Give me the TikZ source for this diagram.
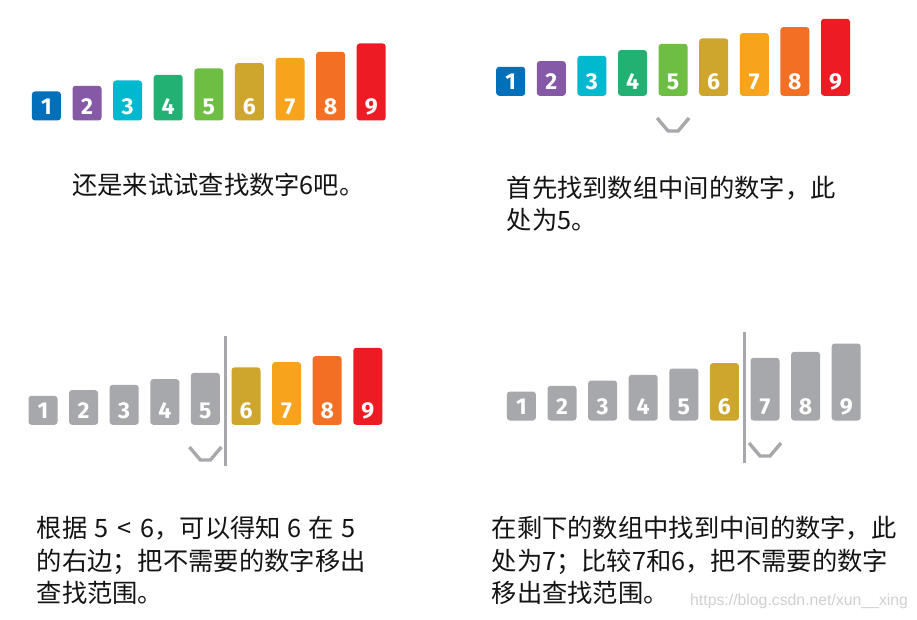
\documentclass[tikz,border=0pt]{standalone}
\usepackage{fontspec}
\newfontfamily\cjk{Noto Sans CJK SC}
\newfontfamily\digitfont{Fira Sans}
\newfontfamily\wmfont{Liberation Sans}
\definecolor{c1}{RGB}{0,112,186}
\definecolor{c2}{RGB}{133,89,165}
\definecolor{c3}{RGB}{0,185,206}
\definecolor{c4}{RGB}{34,177,114}
\definecolor{c5}{RGB}{111,190,68}
\definecolor{c6}{RGB}{206,166,46}
\definecolor{c7}{RGB}{247,164,28}
\definecolor{c8}{RGB}{242,111,35}
\definecolor{c9}{RGB}{237,28,36}
\definecolor{gr}{RGB}{167,168,172}
\definecolor{txtc}{RGB}{20,20,20}
\definecolor{wmc}{RGB}{208,208,208}
\tikzset{
  barbox/.style={rounded corners=3pt, inner sep=0pt, minimum width=29pt, draw=none, anchor=south west},
  digit/.style={font=\digitfont\bfseries\fontsize{23}{23}\selectfont, text=white, inner sep=0pt, anchor=base},
  chevron/.style={draw=gr, line width=3.4pt, line join=miter},
  divider/.style={draw=gr, line width=3pt},
  txt/.style={font=\cjk\fontsize{25.3}{25.3}\selectfont, text=txtc, inner sep=0pt, anchor=base west},
  wm/.style={font=\wmfont\fontsize{15.8}{16}\selectfont, text=wmc, inner sep=0pt, anchor=base west}
}
\newcommand\drawbars[4]{%
  \foreach \c [count=\i] in {#4} {
    \pgfmathsetmacro\h{{29,34.7,40,45.7,52,57.4,62.7,68.7,77}[\i-1]}
    \node[barbox, fill=\c, minimum height=\h pt] (#1b\i) at ({#2+(\i-1)*40.6}, #3) {};
    \node[digit] (#1d\i) at ([yshift=6.4pt]#1b\i.south) {\i};
  }%
}
\newcommand\drawchev[1]{%
  \draw[chevron] ([shift={(-16,0)}]#1) -- ([shift={(-5,13)}]#1) -- ([shift={(5,13)}]#1) -- ([shift={(16,0)}]#1);%
}
\begin{document}
\begin{tikzpicture}[x=1pt,y=-1pt]
\useasboundingbox (0,0) rectangle (917,620);
\fill[white] (0,0) rectangle (917,620);

% panel 1
\drawbars{pa}{31.7}{120.7}{c1,c2,c3,c4,c5,c6,c7,c8,c9}
\node[txt] (ta) at (72,195) {还是来试试查找数字6吧。};

% panel 2
\drawbars{pb}{496}{96}{c1,c2,c3,c4,c5,c6,c7,c8,c9}
\coordinate (chb) at (pbb5.south |- 0,118);
\drawchev{chb}
\node[txt] (tb1) at (506.5,197.5) {首先找到数组中间的数字，此};
\node[txt] (tb2) at (506.5,229.5) {处为5。};

% panel 3
\drawbars{pc}{28.3}{425}{gr,gr,gr,gr,gr,c6,c7,c8,c9}
\coordinate (chc) at (pcb5.south |- 0,447);
\drawchev{chc}
\coordinate (dc1) at (225.7,335.7);
\coordinate (dc2) at (225.7,466);
\draw[divider] (dc1) -- (dc2);
\node[txt] (tc1) at (36.5,537) {根据\hspace{7pt}5\hspace{9pt}<\hspace{9pt}6，可以得知\hspace{7pt}6\hspace{7pt}在\hspace{7pt}5};
\node[txt] (tc2) at (36.5,570) {的右边；把不需要的数字移出};
\node[txt] (tc3) at (36.5,602) {查找范围。};

% panel 4
\drawbars{pd}{506.7}{420.7}{gr,gr,gr,gr,gr,c6,gr,gr,gr}
\coordinate (chd) at (pdb7.south |- 0,443);
\drawchev{chd}
\coordinate (dd1) at (744.3,332);
\coordinate (dd2) at (744.3,462.7);
\draw[divider] (dd1) -- (dd2);
\node[txt] (td1) at (491.5,537) {在剩下的数组中找到中间的数字，此};
\node[txt] (td2) at (491.5,570) {处为7；比较7和6，把不需要的数字};
\node[txt] (td3) at (491.5,602) {移出查找范围。};

\node[wm] (wm) at (690,605) {https://blog.csdn.net/xun\_\_xing};
\end{tikzpicture}
\end{document}
